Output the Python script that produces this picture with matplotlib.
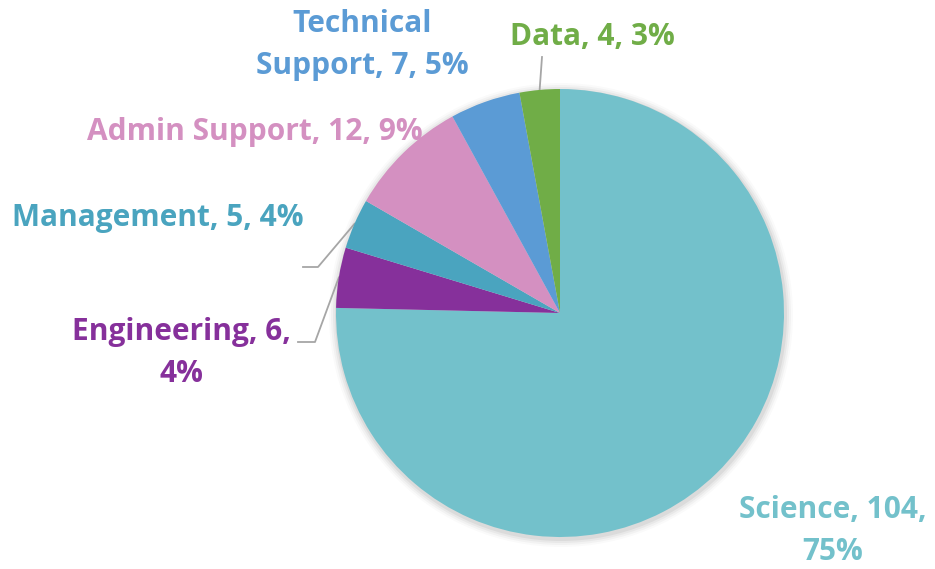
import matplotlib
matplotlib.use("Agg")
import matplotlib.pyplot as plt
import numpy as np

# data
categories = ["Science", "Engineering", "Management", "Admin Support", "Technical Support", "Data"]
counts = [104, 6, 5, 12, 7, 4]
colors = ["#73C1CB", "#86309B", "#4AA4BF", "#D490C1", "#5B9BD5", "#70AD47"]
label_texts = [
    "Science, 104,\n75%",
    "Engineering, 6,\n4%",
    "Management, 5, 4%",
    "Admin Support, 12, 9%",
    "Technical\nSupport, 7, 5%",
    "Data, 4, 3%",
]

W, H = 935, 569
fig = plt.figure(figsize=(W / 100, H / 100), dpi=100)
ax = fig.add_axes([0, 0, 1, 1])

cx, cy, r = 560, H - 313, 224

# faint shadow around the pie
for k, a in enumerate([0.05, 0.04, 0.03, 0.02]):
    ax.add_patch(plt.Circle((cx + 1, cy - 2), r + 2 + 2 * k, color="black", alpha=a, lw=0, zorder=0))

wedges, _ = ax.pie(counts, colors=colors, startangle=90, counterclock=False,
                   center=(cx, cy), radius=r, frame=True,
                   wedgeprops=dict(linewidth=0, zorder=2))
ax.set_xlim(0, W)
ax.set_ylim(0, H)
ax.set_aspect("equal")
ax.axis("off")

# label centres (pixel coords from top) and leader-line elbows
label_pos = {
    "Science": (833, 531),
    "Engineering": (181, 353),
    "Management": (158, 218),
    "Admin Support": (255, 132),
    "Technical Support": (362, 45),
    "Data": (592, 37),
}
leaders = {
    "Data": [(542, 57)],
    "Management": [(303, 267), (318, 267)],
    "Engineering": [(298, 342), (315, 342)],
}

for w, name, txt, col in zip(wedges, categories, label_texts, colors):
    x, y = label_pos[name]
    ax.text(x, H - y, txt, ha="center", va="center", color=col,
            fontsize=21.5, fontweight="bold", family="Open Sans", linespacing=1.55, zorder=3)
    if name in leaders:
        ang = np.deg2rad((w.theta1 + w.theta2) / 2)
        px, py = cx + r * np.cos(ang), cy + r * np.sin(ang)
        pts = [(a, H - b) for a, b in leaders[name]] + [(px, py)]
        xs, ys = zip(*pts)
        ax.plot(xs, ys, color="#A6A6A6", lw=1.3, zorder=1)

fig.savefig("out.png", dpi=100)
